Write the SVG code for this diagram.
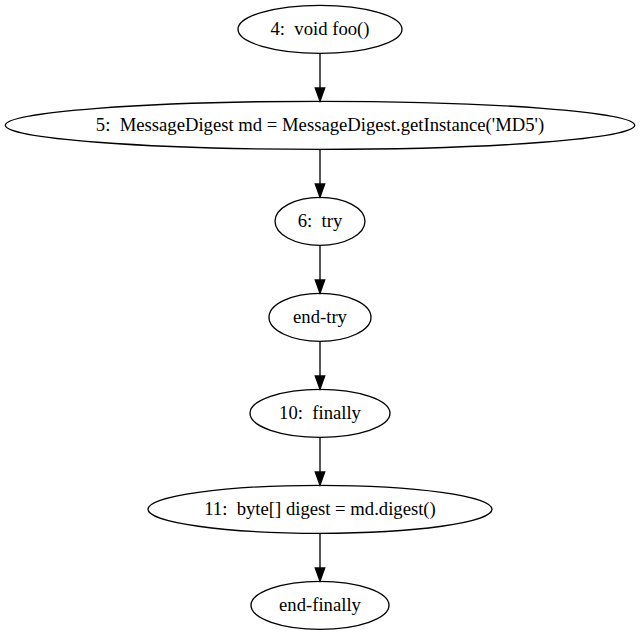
<svg xmlns="http://www.w3.org/2000/svg" width="640" height="635" viewBox="0 0 640 635">
<style>
.n ellipse{fill:none;stroke:#000;stroke-width:1.33}
.n text{font-family:"Liberation Serif","Times New Roman",serif;font-size:18.67px;text-anchor:middle;fill:#000;white-space:pre}
.e line{stroke:#000;stroke-width:1.33}
.e polygon{fill:#000;stroke:#000;stroke-width:1.33}
</style>
<rect width="640" height="635" fill="#fff"/>
<g class="e" id="edges">
<line x1="320" y1="53.3" x2="320" y2="88"/><polygon points="315.3,88 320,101.3 324.7,88"/>
<line x1="320" y1="149.3" x2="320" y2="184"/><polygon points="315.3,184 320,197.3 324.7,184"/>
<line x1="320" y1="245.3" x2="320" y2="280"/><polygon points="315.3,280 320,293.3 324.7,280"/>
<line x1="320" y1="341.3" x2="320" y2="376"/><polygon points="315.3,376 320,389.3 324.7,376"/>
<line x1="320" y1="437.3" x2="320" y2="472"/><polygon points="315.3,472 320,485.3 324.7,472"/>
<line x1="320" y1="533.3" x2="320" y2="568"/><polygon points="315.3,568 320,581.3 324.7,568"/>
</g>
<g class="n" id="n4"><ellipse cx="320" cy="29.3" rx="82" ry="24"/><text x="320" y="35" xml:space="preserve">4:  void foo()</text></g>
<g class="n" id="n5"><ellipse cx="320" cy="125.3" rx="314.7" ry="24"/><text x="320" y="131" xml:space="preserve">5:  MessageDigest md = MessageDigest.getInstance('MD5')</text></g>
<g class="n" id="n6"><ellipse cx="320" cy="221.3" rx="45" ry="24"/><text x="320" y="227" xml:space="preserve">6:  try</text></g>
<g class="n" id="nendtry"><ellipse cx="320" cy="317.3" rx="51" ry="24"/><text x="320" y="323">end-try</text></g>
<g class="n" id="n10"><ellipse cx="320" cy="413.3" rx="70" ry="24"/><text x="320" y="419" xml:space="preserve">10:  finally</text></g>
<g class="n" id="n11"><ellipse cx="320" cy="509.3" rx="172" ry="24"/><text x="320" y="515" xml:space="preserve">11:  byte[] digest = md.digest()</text></g>
<g class="n" id="nendfinally"><ellipse cx="320" cy="605.3" rx="69" ry="24"/><text x="320" y="611">end-finally</text></g>
</svg>
